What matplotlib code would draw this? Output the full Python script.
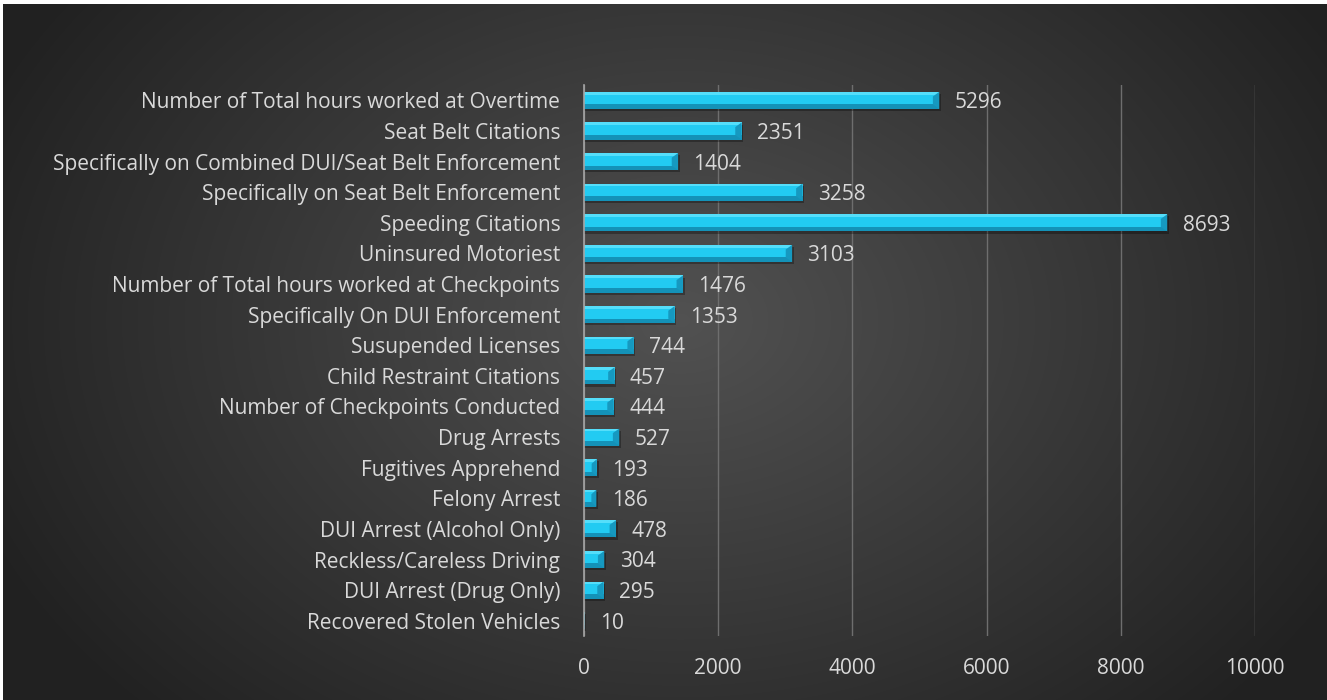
import numpy as np
import matplotlib
matplotlib.use("Agg")
import matplotlib.pyplot as plt
from matplotlib.patches import Polygon

categories = [
    "Number of Total hours worked at Overtime",
    "Seat Belt Citations",
    "Specifically on Combined DUI/Seat Belt Enforcement",
    "Specifically on Seat Belt Enforcement",
    "Speeding Citations",
    "Uninsured Motoriest",
    "Number of Total hours worked at Checkpoints",
    "Specifically On DUI Enforcement",
    "Susupended Licenses",
    "Child Restraint Citations",
    "Number of Checkpoints Conducted",
    "Drug Arrests",
    "Fugitives Apprehend",
    "Felony Arrest",
    "DUI Arrest (Alcohol Only)",
    "Reckless/Careless Driving",
    "DUI Arrest (Drug Only)",
    "Recovered Stolen Vehicles",
]
values = [5296, 2351, 1404, 3258, 8693, 3103, 1476, 1353, 744, 457, 444, 527,
          193, 186, 478, 304, 295, 10]
xticks = [0, 2000, 4000, 6000, 8000, 10000]

TXT = "#D9D9D9"
FS = 15
plt.rcParams["font.family"] = ["Open Sans", "DejaVu Sans"]

fig = plt.figure(figsize=(13.27, 7.0), dpi=100)

# radial gradient background, drawn pixel for pixel
yy, xx = np.mgrid[0:700, 0:1327]
r = np.sqrt(((xx - 680) / 760.0) ** 2 + ((yy - 320) / 560.0) ** 2)
shade = np.clip(0.32 - 0.19 * r, 0.13, 0.32)
img = np.dstack([shade] * 3)
img[:4, :, :] = 1.0     # thin white border at top / left
img[:, :3, :] = 1.0
fig.figimage(img, xo=0, yo=0, origin="upper", zorder=0)

ax = fig.add_axes([0.440, 0.0914, 0.5057, 0.787], zorder=1)
ax.set_facecolor("none")
y = np.arange(len(categories))
vals = np.array(values)
h = 0.56
b = 0.15

# bevelled bars: shadow, dark base, light top strip, cyan body, right cap
ax.barh(y + 0.07, vals + 25, height=h, color="black", alpha=0.3, zorder=2)
ax.barh(y, vals, height=h, color="#1492B8", zorder=3)
ax.barh(y - h / 2 + b / 2, vals, height=b, color="#55DEFA", zorder=4)
ax.barh(y - 0.03, vals, height=h - 2 * b + 0.06, color="#22CBF2", zorder=5)
for yi, v in zip(y, vals):
    bw = min(95, v * 0.4)
    top, bot = yi - h / 2, yi + h / 2
    ax.add_patch(Polygon([(v - bw, top + b), (v, top), (v, bot), (v - bw, bot - b)],
                         closed=True, color="#1699C0", zorder=6, lw=0))
    ax.text(v + 230, yi + 0.08, str(v), va="center", ha="left", color=TXT, fontsize=FS)

ax.set_ylim(len(categories) - 0.5, -0.5)
ax.set_xlim(0, 10000)
ax.set_yticks(y)
ax.set_yticklabels(categories, color=TXT, fontsize=FS)
ax.set_xticks(xticks)
ax.set_xticklabels([str(t) for t in xticks], color=TXT, fontsize=FS)
ax.tick_params(axis="y", length=0, pad=17)
ax.tick_params(axis="x", length=0, pad=16)
ax.grid(axis="x", color="#6E6E6E", lw=1, zorder=0)
for s in ["top", "right", "bottom"]:
    ax.spines[s].set_visible(False)
ax.spines["left"].set_color("#A6A6A6")
ax.spines["left"].set_linewidth(1.2)
ax.spines["left"].set_zorder(7)

fig.savefig("out.png", dpi=100)
